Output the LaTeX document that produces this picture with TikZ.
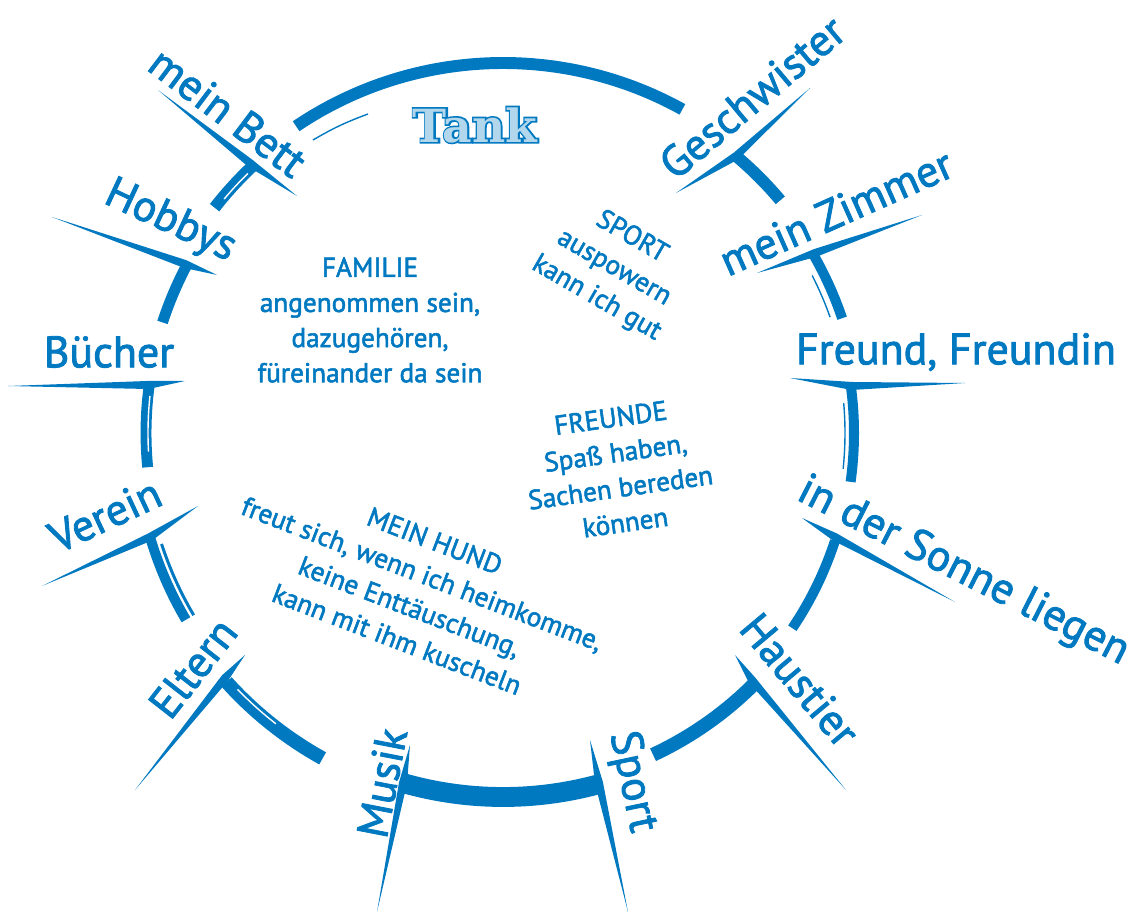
\documentclass[tikz,border=0pt]{standalone}
\usepackage{fontspec}
\usetikzlibrary{calc}
\newfontfamily\handfont{PT Sans}[FakeBold=2]
\newfontfamily\slabfont{DejaVu Serif}
\newfontfamily\slabedge{DejaVu Serif}[FakeBold=7]
\definecolor{brand}{RGB}{0,121,193}
\newcommand{\labelfont}{\handfont\fontsize{25}{28}\selectfont}
\newcommand{\notefont}{\handfont\fontsize{15.5}{20}\selectfont}
\newcommand{\tankword}{\rlap{\color{brand}\slabedge\bfseries Tank}{\color{brand!30}\slabfont\bfseries Tank}}
\tikzset{
  spoketext/.style={text=brand, font=\labelfont, inner sep=0pt},
  notetext/.style={text=brand, font=\notefont, align=center, inner sep=0pt},
  tanktext/.style={font=\fontsize{26}{28}\selectfont, inner sep=0pt},
  ring/.style={draw=brand, line width=#1},
  ring/.default=6.8pt,
  sliver/.style={draw=white, line width=0.8pt},
  thinring/.style={draw=brand, line width=0.8pt}
}
\newcommand{\crossbar}[4]{\fill[brand] (#1) -- ($(#2)!#4!90:(#3)$) -- (#3) -- ($(#2)!#4!-90:(#3)$) -- cycle;}
\begin{document}
\begin{tikzpicture}[x=0.02cm, y=-0.02cm]
\useasboundingbox (0,0) rectangle (1136,912);
\coordinate (c) at (503,433);

\draw[ring] (c) ++(-124:370) arc[start angle=-124, end angle=-61, radius=370];
\draw[ring] (c) ++(-133:366) arc[start angle=-133, end angle=-142, radius=366];
\draw[ring=6.2pt] (c) ++(-152:358) arc[start angle=-152, end angle=-162, radius=358];
\draw[ring=6.2pt] (c) ++(-172.5:357) arc[start angle=-172.5, end angle=-185.5, radius=357];
\draw[ring=5.7pt] (c) ++(163.5:368) arc[start angle=163.5, end angle=149.5, radius=368];
\draw[ring=1.7pt] (c) ++(162:359) arc[start angle=162, end angle=149.5, radius=359];
\draw[ring=7.9pt] (c) ++(138:372) arc[start angle=138, end angle=119, radius=372];
\draw[ring=11.3pt] (c) ++(106:364) arc[start angle=106, end angle=75, radius=364];
\draw[ring=7.9pt] (c) ++(65:355) arc[start angle=65, end angle=45, radius=355];
\draw[ring=5.7pt] (c) ++(18:349) arc[start angle=18, end angle=34, radius=349];
\draw[ring=5.7pt] (c) ++(-7.7:351) arc[start angle=-7.7, end angle=8, radius=351];
\draw[ring=5.7pt] (c) ++(-30:358) arc[start angle=-30, end angle=-18.7, radius=358];
\draw[ring] (c) ++(-50:362) arc[start angle=-50, end angle=-40, radius=362];

\draw[sliver] (c) ++(-134.5:364) arc[start angle=-134.5, end angle=-140, radius=364];
\draw[sliver] (c) ++(-174:355) arc[start angle=-174, end angle=-183, radius=355];
\draw[sliver] (c) ++(136:369) arc[start angle=136, end angle=128, radius=369];
\draw[thinring] (c) ++(-5:342) arc[start angle=-5, end angle=6, radius=342];
\draw[thinring] (c) ++(-27:347) arc[start angle=-27, end angle=-19.5, radius=347];
\draw[thinring] (313,140) to[bend left=5] (368,114);

\crossbar{158,90}{250,163}{297,196}{2.3pt}
\crossbar{52,217}{185,264}{217,275}{2.3pt}
\crossbar{8,386}{148,385}{185,381}{2.3pt}
\crossbar{42,586}{150,537}{198,506}{2.3pt}
\crossbar{135,790}{225,678}{245,655}{2.3pt}
\crossbar{377,912}{403,783}{410,745}{2.3pt}
\crossbar{628,912}{599,783}{590,740}{2.3pt}
\crossbar{846,790}{752,680}{735,655}{2.3pt}
\crossbar{955,602}{835,537}{802,518}{2.3pt}
\crossbar{965,383}{852,386}{790,378}{2.3pt}
\crossbar{922,215}{815,253}{757,273}{2.3pt}
\crossbar{810,88}{736,156}{676,193}{2.3pt}

\node[spoketext, rotate=-37] (bett) at (228,112) {mein Bett};
\node[spoketext, rotate=-25] (hobbys) at (170,222) {Hobbys};
\node[spoketext] (buecher) at (109,352) {Bücher};
\node[spoketext, rotate=25] (verein) at (105,515) {Verein};
\node[spoketext, rotate=52] (eltern) at (193,668) {Eltern};
\node[spoketext, rotate=79] (musik) at (382,783) {Musik};
\node[spoketext, rotate=-78] (sport) at (632,782) {Sport};
\node[spoketext, rotate=-50] (haustier) at (800,680) {Haustier};
\node[spoketext, rotate=-27] (sonne) at (963,572) {in der Sonne liegen};
\node[spoketext] (freund) at (956,352) {Freund, Freundin};
\node[spoketext, rotate=24] (zimmer) at (836,212) {mein Zimmer};
\node[spoketext, rotate=40] (geschwister) at (752,97) {Geschwister};

\node[tanktext] (tank) at (475,125) {\tankword};

\node[notetext] (familie) at (370,320) {FAMILIE\\angenommen sein,\\dazugehören,\\füreinander da sein};
\node[notetext, rotate=-30] (sportnote) at (614,268) {SPORT\\auspowern\\kann ich gut};
\node[notetext, rotate=8] (freunde) at (618,470) {FREUNDE\\Spaß haben,\\Sachen bereden\\können};
\node[notetext, rotate=-21] (hund) at (416,590) {MEIN HUND\\freut sich, wenn ich heimkomme,\\keine Enttäuschung,\\kann mit ihm kuscheln};
\end{tikzpicture}
\end{document}
